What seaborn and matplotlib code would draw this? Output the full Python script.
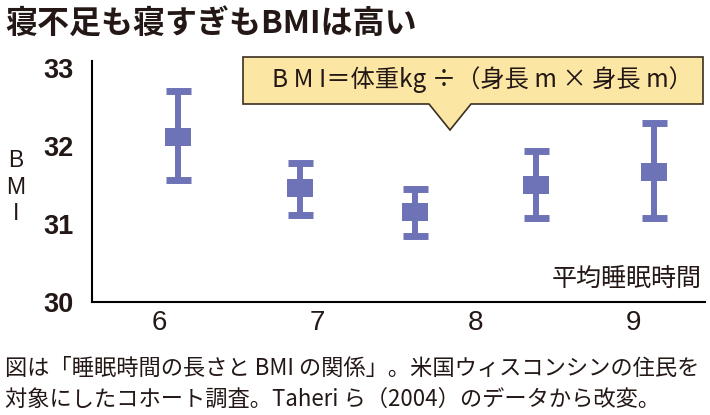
import matplotlib
matplotlib.use("Agg")
import matplotlib.pyplot as plt
from matplotlib.path import Path
from matplotlib.patches import Polygon
import seaborn as sns

# 平均睡眠時間ごとのBMI（平均と範囲）
sleep_hours = [6.12, 6.89, 7.62, 8.38, 9.13]
bmi_mean = [32.11, 31.46, 31.16, 31.50, 31.67]
bmi_upper = [32.71, 31.78, 31.45, 31.94, 32.30]
bmi_lower = [31.56, 31.12, 30.84, 31.08, 31.08]

x_ticks = [6, 7, 8, 9]
y_ticks = [30, 31, 32, 33]

title = "寝不足も寝すぎもBMIは高い"
note = "B M I＝体重kg ÷（身長 m × 身長 m）"
x_label = "平均睡眠時間"
y_label = "B\nM\nI"
caption = ("図は「睡眠時間の長さと BMI の関係」。米国ウィスコンシンの住民を\n"
           "対象にしたコホート調査。Taheri ら（2004）のデータから改変。")

sns.set_style("white")
plt.rcParams["font.family"] = ["Noto Sans CJK JP", "DejaVu Sans"]

W, H = 710, 415
fig = plt.figure(figsize=(7.1, 4.15), dpi=100)
ax = fig.add_axes([92 / W, 1 - 302 / H, (705 - 92) / W, (302 - 61) / H])

color = "#6E73B8"
err = [[m - lo for m, lo in zip(bmi_mean, bmi_lower)],
       [hi - m for m, hi in zip(bmi_mean, bmi_upper)]]
ax.errorbar(sleep_hours, bmi_mean, yerr=err, fmt="none", ecolor=color,
            elinewidth=4.3, capsize=9, capthick=5)

# wide rectangle marker
rect = Path([(-1, -0.7), (1, -0.7), (1, 0.7), (-1, 0.7), (-1, -0.7)], closed=True)
sns.scatterplot(x=sleep_hours, y=bmi_mean, marker=rect, s=350, color=color,
                linewidth=0, ax=ax, zorder=3)

ax.set_xlim(5.577, 9.449)
ax.set_ylim(30, 33.09)
sns.despine(ax=ax)
for s in ["left", "bottom"]:
    ax.spines[s].set_linewidth(1.5)
    ax.spines[s].set_color("black")

ax.set_yticks(y_ticks)
ax.set_yticklabels([str(v) for v in y_ticks], fontsize=19.5, fontweight="bold",
                   family=["Liberation Sans Narrow", "Liberation Sans"], color="#231815")
ax.set_xticks(x_ticks)
ax.set_xticklabels([str(v) for v in x_ticks], fontsize=20, family=["Liberation Sans"],
                   color="#231815")
ax.tick_params(axis="y", direction="in", length=13.7, width=1.2, pad=13)
ax.tick_params(axis="x", length=0, pad=6)
ax.set_xlabel("")
ax.set_ylabel("")

fig.text(702 / W, 1 - 279 / H, x_label, ha="right", va="center", fontsize=18,
         color="#231815")
fig.text(16 / W, 1 - 187 / H, y_label, ha="center", va="center", ma="center",
         fontsize=16.5, linespacing=1.2, family=["Liberation Sans"], color="#231815")

fig.text(5 / W, 1 - 24 / H, title, ha="left", va="center", fontsize=23,
         fontweight="bold", color="#231815")

# callout box with pointer
pts = [(243, 57), (703, 57), (703, 104), (471, 104), (450, 130), (429, 104), (243, 104)]
callout = Polygon([(px / W, 1 - py / H) for px, py in pts], closed=True,
                  transform=fig.transFigure, facecolor="#FCE6A4",
                  edgecolor="#3B3020", linewidth=1.2)
fig.add_artist(callout)
fig.text(482 / W, 1 - 80 / H, note, ha="center", va="center", fontsize=17.5,
         color="#231815")

fig.text(5 / W, 1 - 384 / H, caption, ha="left", va="center", fontsize=16,
         linespacing=1.4, color="#231815")

fig.savefig("out.png", dpi=100)
